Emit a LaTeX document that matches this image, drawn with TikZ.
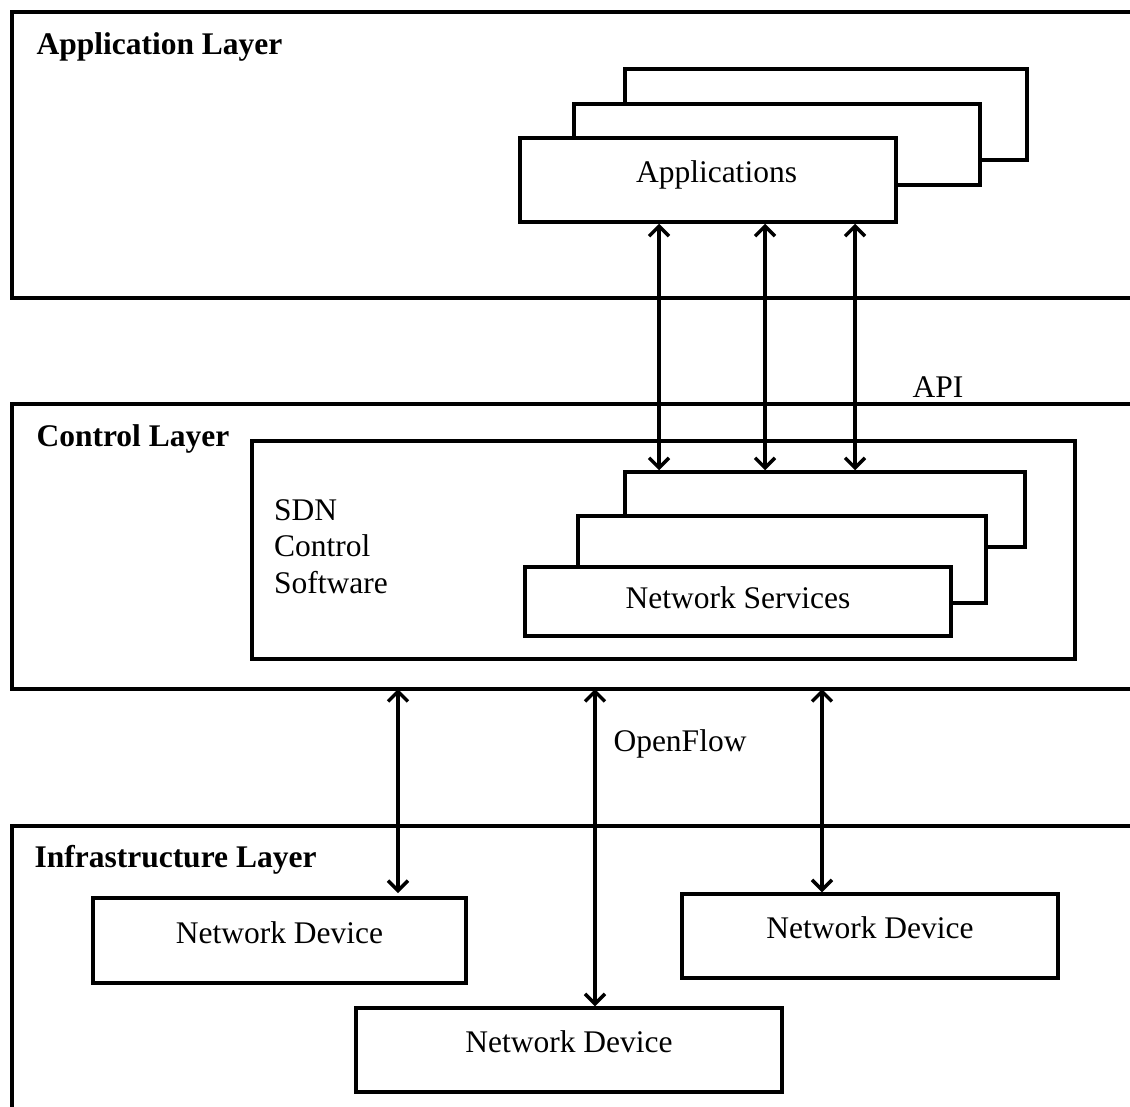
\documentclass[tikz,border=0pt]{standalone}
\usepackage{fontspec}
\setmainfont{Liberation Serif}
\usetikzlibrary{arrows.meta}
\begin{document}
\begin{tikzpicture}[x=1pt,y=-1pt,
  every node/.style={font=\fontsize{31.5}{36.5}\selectfont},
  layer/.style={draw, line width=3.5pt},
  box/.style={draw, line width=3.5pt, fill=white, rectangle, inner sep=0pt},
  ttl/.style={anchor=west, font=\fontsize{31.5}{36.5}\selectfont\bfseries},
  lbl/.style={inner sep=0pt},
  dbl/.style={line width=3.5pt, {Straight Barb[length=10pt,width=20pt]}-{Straight Barb[length=10pt,width=20pt]}}]
\useasboundingbox (0,0) rectangle (1130,1106);
\clip (0,0) rectangle (1130,1106);
% layers
\draw[layer] (1150,12) -- (12,12) -- (12,298) -- (1150,298);
\draw[layer] (1150,404) -- (12,404) -- (12,689) -- (1150,689);
\draw[layer] (1150,826) -- (12,826) -- (12,1130);
\node[ttl] (tapp) at (33,47) {Application Layer};
\node[ttl] (tctl) at (33,439) {Control Layer};
\node[ttl] (tinf) at (31,860) {Infrastructure Layer};
% application stack
\node[box, minimum width=402, minimum height=91] (app3) at (826,114.5) {};
\node[box, minimum width=406, minimum height=81] (app2) at (777,144.5) {};
\node[box, minimum width=376, minimum height=84, text depth=16pt] (app1) at (708,180) {\hspace*{17pt}Applications};
% control layer
\node[box, minimum width=823, minimum height=218] (sdn) at (663.5,550) {};
\node[lbl, anchor=north west, align=left] (sdntxt) at (274,499) {SDN\\Control\\Software};
\node[box, minimum width=400, minimum height=75] (ns3) at (825,509.5) {};
\node[box, minimum width=408, minimum height=87] (ns2) at (782,559.5) {};
\node[box, minimum width=426, minimum height=69, text depth=8pt] (ns1) at (738,601.5) {Network Services};
% infrastructure
\node[box, minimum width=373, minimum height=85, text depth=16pt] (nd1) at (279.5,940.5) {Network Device};
\node[box, minimum width=376, minimum height=84, text depth=16pt] (nd2) at (870,936) {Network Device};
\node[box, minimum width=426, minimum height=84, text depth=16pt] (nd3) at (569,1050) {Network Device};
% labels
\node[lbl] (api) at (938,387) {API};
\node[lbl] (of) at (680,744) {OpenFlow};
% API arrows
\draw[dbl] (659,0 |- app1.south) -- (659,0 |- ns3.north);
\draw[dbl] (765,0 |- app1.south) -- (765,0 |- ns3.north);
\draw[dbl] (855,0 |- app1.south) -- (855,0 |- ns3.north);
% OpenFlow arrows
\coordinate (c1) at (398,689);
\coordinate (c2) at (595,689);
\coordinate (c3) at (822,689);
\draw[dbl] (c1) -- (398,893);
\draw[dbl] (c2) -- (c2 |- nd3.north);
\draw[dbl] (c3) -- (c3 |- nd2.north);
\end{tikzpicture}
\end{document}
